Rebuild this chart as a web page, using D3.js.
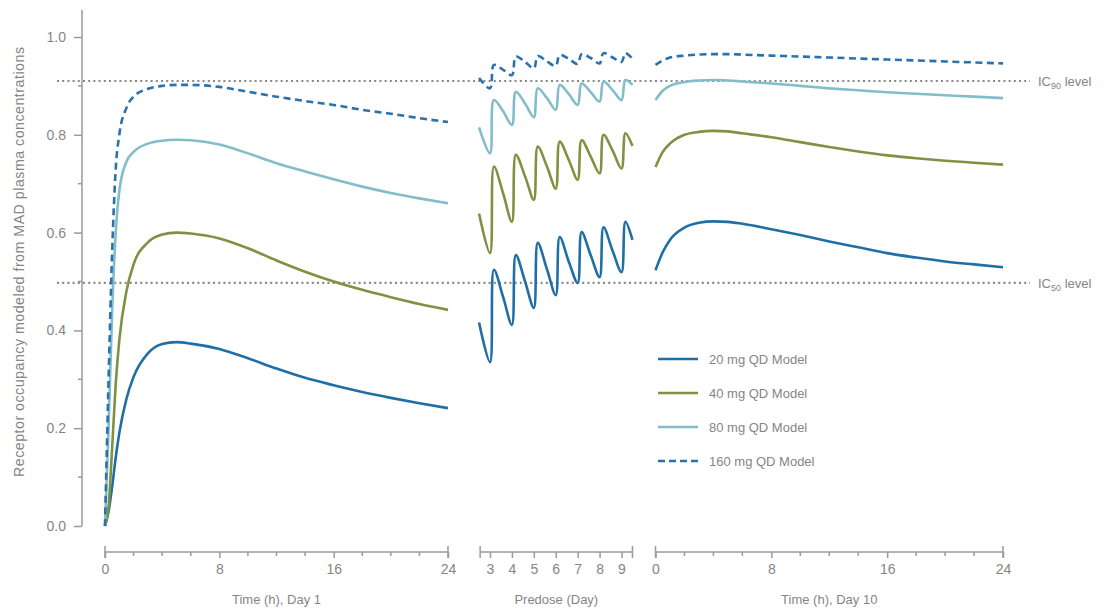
<!DOCTYPE html>
<html>
<head>
<meta charset="utf-8">
<script src="https://cdn.jsdelivr.net/npm/d3@7"></script>
<style>
  body { margin: 0; background: #fff; }
  svg { display: block; font-family: "Liberation Sans", Arial, sans-serif; }
</style>
</head>
<body>
<svg id="chart" width="1104" height="610"></svg>
<script>
// ---------------- DATA ----------------
const seriesNames = ["20 mg QD Model", "40 mg QD Model", "80 mg QD Model", "160 mg QD Model"];
const seriesColors = ["#1f6fa6", "#7e9241", "#82bdc9", "#2a72ab"];
const seriesDashed = [false, false, false, true];

const yTicks = [0.0, 0.2, 0.4, 0.6, 0.8, 1.0];
const yMinorTicks = [0.1, 0.3, 0.5, 0.7, 0.9];
const hourTicks = [0, 8, 16, 24];
const hourMinorTicks = [2, 4, 6, 10, 12, 14, 18, 20, 22];
const dayTicks = [3, 4, 5, 6, 7, 8, 9];
const axisTitles = ["Time (h), Day 1", "Predose (Day)", "Time (h), Day 10"];
const yTitle = "Receptor occupancy modeled from MAD plasma concentrations";
const icLevels = [0.91, 0.497];
const icLabels = ["90", "50"];

// Day 1 (hours)
const day1Hours = [0, 0.25, 0.5, 0.75, 1, 1.5, 2, 3, 4, 5, 6, 8, 10, 12, 14, 16, 18, 20, 22, 24];
const day1_20 = [0, 0.03, 0.08, 0.14, 0.19, 0.26, 0.305, 0.353, 0.372, 0.376, 0.373, 0.362, 0.343, 0.322, 0.303, 0.288, 0.274, 0.262, 0.251, 0.241];
const day1_40 = [0, 0.04, 0.16, 0.29, 0.38, 0.48, 0.535, 0.580, 0.596, 0.600, 0.598, 0.588, 0.568, 0.543, 0.520, 0.500, 0.483, 0.468, 0.454, 0.442];
const day1_80 = [0, 0.20, 0.44, 0.60, 0.685, 0.745, 0.765, 0.782, 0.788, 0.790, 0.789, 0.780, 0.762, 0.742, 0.725, 0.709, 0.694, 0.681, 0.670, 0.660];
const day1_160 = [0, 0.30, 0.56, 0.73, 0.80, 0.855, 0.878, 0.894, 0.900, 0.902, 0.902, 0.898, 0.888, 0.878, 0.869, 0.861, 0.851, 0.843, 0.834, 0.826];

// Predose (days 3-9)
const predoseDays = [2.5, 3, 3.18, 3.6, 4, 4.18, 4.6, 5, 5.18, 5.6, 6, 6.18, 6.6, 7, 7.18, 7.6, 8, 8.18, 8.6, 9, 9.18, 9.5];
const predose_20 = [0.416, 0.335, 0.524, 0.468, 0.411, 0.554, 0.500, 0.446, 0.579, 0.525, 0.472, 0.591, 0.540, 0.497, 0.601, 0.553, 0.509, 0.611, 0.562, 0.519, 0.622, 0.585];
const predose_40 = [0.639, 0.558, 0.735, 0.680, 0.622, 0.759, 0.715, 0.667, 0.776, 0.735, 0.690, 0.786, 0.748, 0.708, 0.789, 0.755, 0.721, 0.800, 0.767, 0.731, 0.803, 0.777];
const predose_80 = [0.815, 0.762, 0.871, 0.848, 0.820, 0.888, 0.864, 0.836, 0.895, 0.875, 0.851, 0.902, 0.883, 0.861, 0.905, 0.887, 0.868, 0.909, 0.891, 0.871, 0.912, 0.902];
const predose_160 = [0.916, 0.895, 0.943, 0.933, 0.922, 0.960, 0.949, 0.936, 0.961, 0.950, 0.941, 0.963, 0.955, 0.945, 0.965, 0.957, 0.946, 0.967, 0.958, 0.949, 0.967, 0.956];

// Day 10 (hours)
const day10Hours = [0, 0.5, 1, 2, 3, 4, 5, 6, 8, 10, 12, 14, 16, 18, 20, 22, 24];
const day10_20 = [0.523, 0.560, 0.585, 0.610, 0.620, 0.623, 0.622, 0.618, 0.607, 0.595, 0.582, 0.570, 0.558, 0.549, 0.541, 0.535, 0.529];
const day10_40 = [0.734, 0.765, 0.782, 0.800, 0.806, 0.808, 0.807, 0.803, 0.795, 0.785, 0.775, 0.766, 0.758, 0.752, 0.747, 0.743, 0.739];
const day10_80 = [0.871, 0.890, 0.900, 0.908, 0.911, 0.912, 0.911, 0.909, 0.905, 0.900, 0.895, 0.891, 0.887, 0.884, 0.881, 0.878, 0.875];
const day10_160 = [0.943, 0.952, 0.958, 0.962, 0.964, 0.965, 0.965, 0.964, 0.962, 0.960, 0.958, 0.956, 0.954, 0.952, 0.950, 0.948, 0.946];

// ---------------- DRAW ----------------
const svg = d3.select("#chart");
const textColor = "#858585";
const axisColor = "#9a9a9a";

const y = d3.scaleLinear().domain([0, 1]).range([526, 37]);
const yTop = 1.055;
const yAxisX = 82;
const axisY = 552;

const panels = [
  { x: d3.scaleLinear().domain([0, 24]).range([105, 448]), xs: day1Hours, curve: d3.curveMonotoneX,
    ys: [day1_20, day1_40, day1_80, day1_160], ticks: hourTicks, minor: hourMinorTicks, title: axisTitles[0] },
  { x: d3.scaleLinear().domain([3, 9]).range([490, 621.5]), xs: predoseDays, curve: d3.curveCatmullRom.alpha(0.5),
    ys: [predose_20, predose_40, predose_80, predose_160], ticks: dayTicks, minor: [], title: axisTitles[1], ext: [2.55, 9.5] },
  { x: d3.scaleLinear().domain([0, 24]).range([655.5, 1003]), xs: day10Hours, curve: d3.curveMonotoneX,
    ys: [day10_20, day10_40, day10_80, day10_160], ticks: hourTicks, minor: hourMinorTicks, title: axisTitles[2] }
];

// Y axis
const yAxis = d3.axisLeft(y).tickValues(yTicks).tickFormat(d3.format(".1f")).tickSize(8).tickPadding(8);
const gy = svg.append("g").attr("transform", `translate(${yAxisX},0)`).call(yAxis);
gy.select(".domain").remove();
gy.append("line").attr("x1", 0).attr("x2", 0).attr("y1", y(yTop)).attr("y2", y(0)).attr("stroke", axisColor).attr("stroke-width", 1.5);
gy.selectAll(".tick line").attr("stroke", axisColor).attr("stroke-width", 1.5);
gy.selectAll(".tick text").attr("fill", textColor).attr("font-size", 14);
gy.selectAll(".minor").data(yMinorTicks).enter().append("line")
  .attr("x1", -4).attr("x2", 0).attr("y1", d => y(d)).attr("y2", d => y(d))
  .attr("stroke", axisColor).attr("stroke-width", 1.5);

svg.append("text")
  .attr("transform", "translate(24,262) rotate(-90)")
  .attr("text-anchor", "middle").attr("fill", textColor).attr("font-size", 14.2)
  .attr("textLength", 430).attr("lengthAdjust", "spacing")
  .text(yTitle);

// IC dotted reference lines
icLevels.forEach((lv, i) => {
  svg.append("line").attr("x1", 57).attr("x2", 1030).attr("y1", y(lv)).attr("y2", y(lv))
    .attr("stroke", "#888").attr("stroke-width", 2.2).attr("stroke-dasharray", "2,3.2");
  const t = svg.append("text").attr("x", 1038).attr("y", y(lv) + 5).attr("fill", textColor).attr("font-size", 13);
  t.append("tspan").text("IC");
  t.append("tspan").attr("font-size", 9).attr("dy", 3).text(icLabels[i]);
  t.append("tspan").attr("dy", -3).text(" level");
});

// Panels
panels.forEach(p => {
  const ext = p.ext || p.x.domain();
  const x0 = p.x(ext[0]), x1 = p.x(ext[1]);
  const g = svg.append("g");
  g.append("line").attr("x1", x0).attr("x2", x1).attr("y1", axisY).attr("y2", axisY)
    .attr("stroke", axisColor).attr("stroke-width", 1.5);
  [x0, x1].forEach(xx => g.append("line").attr("x1", xx).attr("x2", xx).attr("y1", axisY - 6).attr("y2", axisY + 6)
    .attr("stroke", axisColor).attr("stroke-width", 1.5));
  const ax = d3.axisBottom(p.x).tickValues(p.ticks).tickSize(6).tickPadding(6).tickFormat(d3.format("d"));
  const ga = g.append("g").attr("transform", `translate(0,${axisY})`).call(ax);
  ga.select(".domain").remove();
  ga.selectAll(".tick line").attr("stroke", axisColor).attr("stroke-width", 1.5);
  ga.selectAll(".tick text").attr("fill", textColor).attr("font-size", 14);
  g.selectAll(".mt").data(p.minor).enter().append("line")
    .attr("x1", d => p.x(d)).attr("x2", d => p.x(d)).attr("y1", axisY).attr("y2", axisY + 4)
    .attr("stroke", axisColor).attr("stroke-width", 1.5);
  g.append("text").attr("x", (x0 + x1) / 2).attr("y", 604).attr("text-anchor", "middle")
    .attr("fill", textColor).attr("font-size", 13).text(p.title);

  p.ys.forEach((vals, si) => {
    const line = d3.line().x((d, i) => p.x(p.xs[i])).y(d => y(d)).curve(p.curve);
    g.append("path").attr("d", line(vals)).attr("fill", "none")
      .attr("stroke", seriesColors[si]).attr("stroke-width", 2.6)
      .attr("stroke-dasharray", seriesDashed[si] ? "7,4.5" : null)
      .attr("stroke-linejoin", "round");
  });
});

// Legend
const lg = svg.append("g").attr("transform", "translate(658,359)");
seriesNames.forEach((n, i) => {
  const row = lg.append("g").attr("transform", `translate(0,${i * 34})`);
  row.append("line").attr("x1", 0).attr("x2", 40).attr("y1", 0).attr("y2", 0)
    .attr("stroke", seriesColors[i]).attr("stroke-width", 2.6)
    .attr("stroke-dasharray", seriesDashed[i] ? "7,4" : null);
  row.append("text").attr("x", 51).attr("y", 5).attr("fill", textColor).attr("font-size", 13).text(n);
});
</script>
</body>
</html>
